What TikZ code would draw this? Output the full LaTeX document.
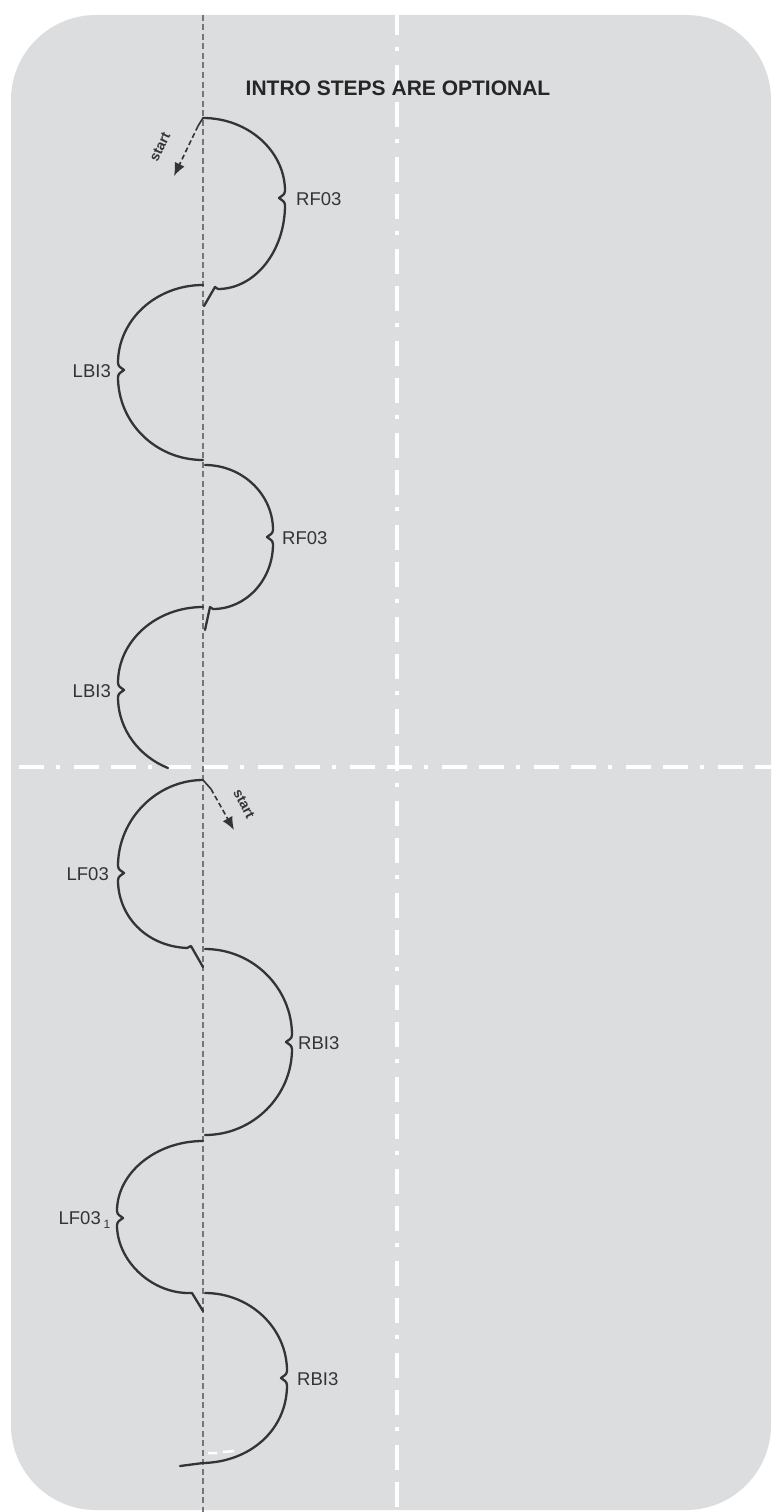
\documentclass[tikz,border=0pt]{standalone}
\usepackage{fontspec}
\setmainfont{Liberation Sans}
\usetikzlibrary{arrows.meta}
\definecolor{bg}{RGB}{220,221,223}
\definecolor{ink}{RGB}{52,52,54}
\definecolor{axisgray}{RGB}{118,118,122}
\begin{document}
\begin{tikzpicture}[x=1pt,y=-1pt,
  edge/.style={draw=ink,line width=2.3pt,line join=round,line cap=round},
  lab/.style={text=ink,font=\fontsize{18.5}{18.5}\selectfont,inner sep=0pt},
  startlab/.style={text=ink,font=\bfseries\fontsize{14}{14}\selectfont,inner sep=0pt},
  whiteline/.style={white,line width=4pt,dash pattern=on 25pt off 12pt on 25pt off 12pt on 4pt off 14pt},
  axisline/.style={axisgray,line width=1.5pt,dash pattern=on 6pt off 3.5pt},
  startline/.style={ink,line width=1.6pt},
  startdash/.style={ink,line width=1.6pt,dash pattern=on 5pt off 3pt,-{Latex[length=13pt,width=11pt]}}]
\useasboundingbox (0,0) rectangle (773,1512);
\fill[white] (0,0) rectangle (773,1512);
\fill[bg,rounded corners=85pt] (11,15) rectangle (771,1510);
% white dash-dot lines
\draw[whiteline,dash phase=42pt] (397,15) -- (397,1512);
\draw[whiteline,dash phase=29pt] (11,767) -- (773,767);
% axis
\draw[axisline] (203,15) -- (203,1512);
% title
\node[font=\bfseries\fontsize{21}{21}\selectfont,text=black!85,inner sep=0pt] (title) at (398,88) {INTRO STEPS ARE OPTIONAL};
% RF03 #1
\coordinate (s1) at (203,118);
\draw[edge] (s1) .. controls (248,118) and (285,151) .. (285,191)
  .. controls (285,195) and (281,196) .. (279,198)
  .. controls (281,200) and (285,201) .. (285,205)
  .. controls (285,251) and (255,289) .. (218,289)
  -- (215,287) -- (204,306);
% LBI3 #1
\draw[edge] (203,285) .. controls (156,285) and (118,320) .. (118,363)
  .. controls (118,367) and (122,368) .. (124,370)
  .. controls (122,372) and (118,373) .. (118,377)
  .. controls (118,423) and (156,460) .. (203,460);
% RF03 #2
\draw[edge] (205,465) .. controls (242,465) and (273,494) .. (273,530)
  .. controls (273,534) and (269,535) .. (267,537)
  .. controls (269,539) and (273,540) .. (273,544)
  .. controls (273,580) and (246,609) .. (213,609)
  -- (210,607) -- (205,630);
% LBI3 #2
\draw[edge] (203,607) .. controls (156,607) and (118,641) .. (118,683)
  .. controls (118,687) and (122,688) .. (124,690)
  .. controls (122,692) and (118,693) .. (118,697)
  .. controls (118,730) and (140,757) .. (168,768);
% LF03 #1
\coordinate (s2) at (203,780);
\draw[edge] (s2) .. controls (157,780) and (118,819) .. (118,866)
  .. controls (118,870) and (122,871) .. (124,873)
  .. controls (122,875) and (118,876) .. (118,880)
  .. controls (118,915) and (145,946) .. (187,948)
  -- (191,946) -- (203,967);
% RBI3 #1
\draw[edge] (205,949) .. controls (253,949) and (292,988) .. (292,1035)
  .. controls (292,1039) and (288,1040) .. (286,1042)
  .. controls (288,1044) and (292,1045) .. (292,1049)
  .. controls (292,1096) and (253,1135) .. (205,1135);
% LF03 #2
\draw[edge] (203,1141) .. controls (156,1141) and (117,1173) .. (117,1211)
  .. controls (117,1215) and (121,1216) .. (123,1218)
  .. controls (121,1220) and (117,1221) .. (117,1225)
  .. controls (117,1260) and (150,1292) .. (187,1293)
  -- (192,1293) -- (203,1311);
% RBI3 #2
\draw[edge] (205,1293) .. controls (250,1293) and (287,1328) .. (287,1371)
  .. controls (287,1375) and (283,1376) .. (281,1378)
  .. controls (283,1380) and (287,1381) .. (287,1385)
  .. controls (287,1430) and (250,1462) .. (203,1463) -- (180,1466);
\draw[white,line width=2.5pt] (208,1453) -- (217,1453) (223,1452) -- (234,1451);
% start arrows
\coordinate (s1a) at (198,126);
\coordinate (s1b) at (174,176);
\draw[startline] (s1) -- (s1a);
\draw[startdash] (s1a) -- (s1b);
\node[startlab,rotate=64] (st1) at (160,147) {start};
\coordinate (s2a) at (211,789);
\coordinate (s2b) at (234,830);
\draw[startline] (s2) -- (s2a);
\draw[startdash] (s2a) -- (s2b);
\node[startlab,rotate=-62] (st2) at (244,804) {start};
% labels
\node[lab,anchor=west] (rf1) at (296,199) {RF03};
\node[lab,anchor=east] (lb1) at (111,371) {LBI3};
\node[lab,anchor=west] (rf2) at (282,538) {RF03};
\node[lab,anchor=east] (lb2) at (111,691) {LBI3};
\node[lab,anchor=east] (lf1) at (109,874) {LF03};
\node[lab,anchor=west] (rb1) at (298,1043) {RBI3};
\node[lab,anchor=east] (lf2) at (101,1218) {LF03};
\node[text=ink,font=\fontsize{12}{12}\selectfont,inner sep=0pt] (lf2s) at (107,1224) {1};
\node[lab,anchor=west] (rb2) at (297,1379) {RBI3};
\end{tikzpicture}
\end{document}
